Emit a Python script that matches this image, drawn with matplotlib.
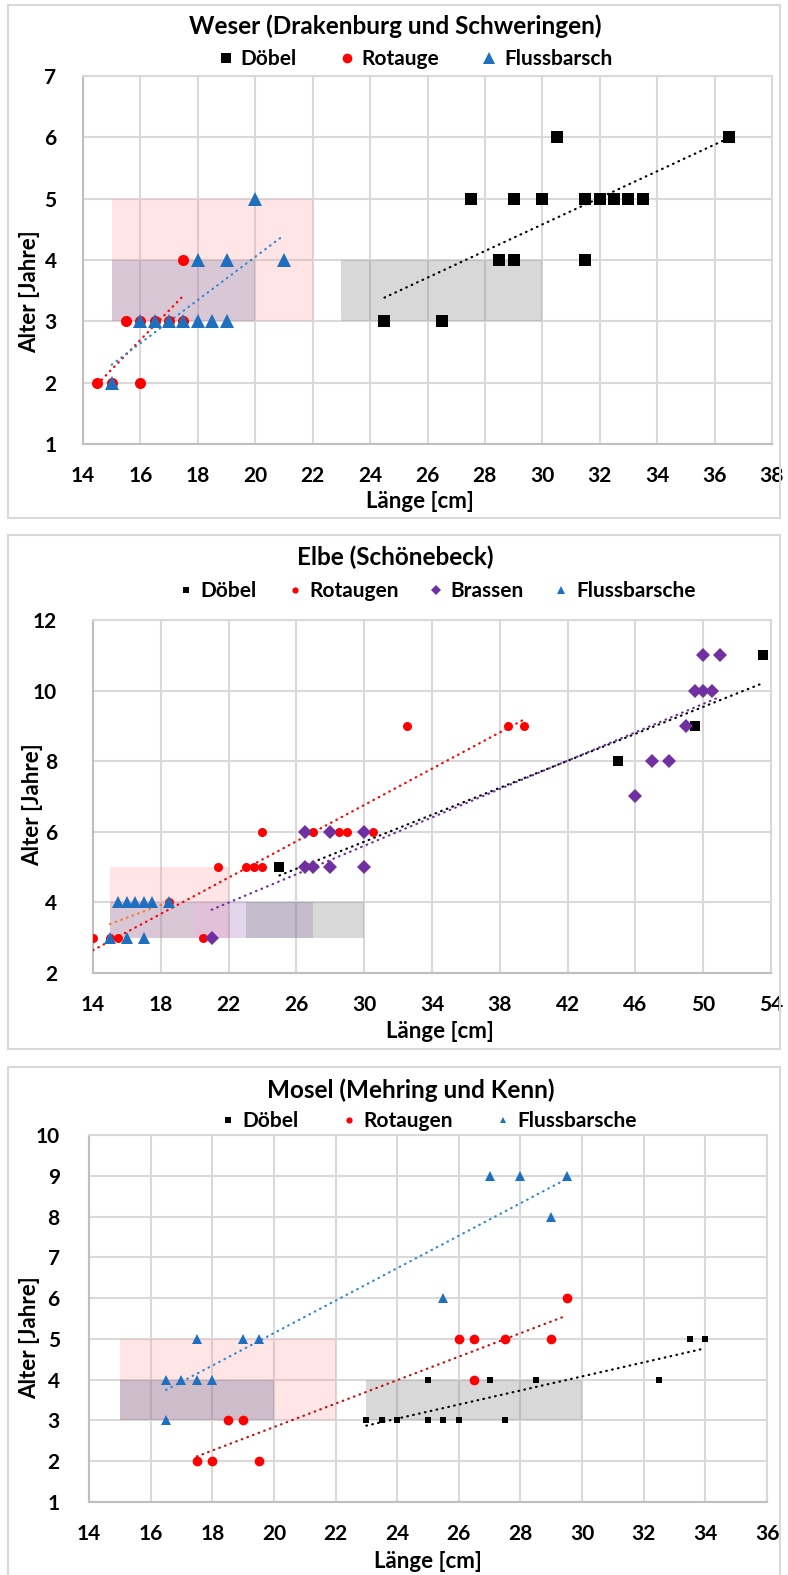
import numpy as np
import matplotlib.pyplot as plt
from matplotlib.patches import Rectangle
from matplotlib.lines import Line2D

plt.rcParams['font.family'] = ['Lato', 'DejaVu Sans']
plt.rcParams['font.weight'] = 'bold'

# ---- Weser (Drakenburg und Schweringen)
weser_doebel_len = [24.5, 26.5, 27.5, 28.5, 29, 29, 30, 30.5, 31.5, 31.5, 32, 32.5, 33, 33.5, 36.5]
weser_doebel_age = [3, 3, 5, 4, 4, 5, 5, 6, 5, 4, 5, 5, 5, 5, 6]
weser_rot_len = [14.5, 15, 16, 15.5, 16, 16.5, 17, 17.5, 17.5]
weser_rot_age = [2, 2, 2, 3, 3, 3, 3, 3, 4]
weser_fb_len = [15, 16, 16.5, 17, 17.5, 18, 18.5, 19, 18, 19, 21, 20]
weser_fb_age = [2, 3, 3, 3, 3, 3, 3, 3, 4, 4, 4, 5]

# ---- Elbe (Schönebeck)
elbe_doebel_len = [25, 45, 49.5, 53.5]
elbe_doebel_age = [5, 8, 9, 11]
elbe_rot_len = [14, 15, 15.5, 20.5, 18.5, 21.4, 23, 23.5, 24, 24, 27, 28.5, 29, 30.5, 32.5, 38.5, 39.4]
elbe_rot_age = [3, 3, 3, 3, 4, 5, 5, 5, 5, 6, 6, 6, 6, 6, 9, 9, 9]
elbe_bra_len = [21, 26.5, 28, 30, 26.5, 27, 28, 30, 46, 47, 48, 49, 49.5, 50, 50.5, 50, 51]
elbe_bra_age = [3, 6, 6, 6, 5, 5, 5, 5, 7, 8, 8, 9, 10, 10, 10, 11, 11]
elbe_fb_len = [15, 16, 17, 15.5, 16, 16.5, 17, 17.5, 18.5]
elbe_fb_age = [3, 3, 3, 4, 4, 4, 4, 4, 4]

# ---- Mosel (Mehring und Kenn)
mosel_doebel_len = [23, 23.5, 24, 25, 25.5, 26, 27.5, 25, 27, 28.5, 32.5, 33.5, 34]
mosel_doebel_age = [3, 3, 3, 3, 3, 3, 3, 4, 4, 4, 4, 5, 5]
mosel_rot_len = [17.5, 18, 19.5, 18.5, 19, 26.5, 26, 26.5, 27.5, 29, 29.5]
mosel_rot_age = [2, 2, 2, 3, 3, 4, 5, 5, 5, 5, 6]
mosel_fb_len = [16.5, 16.5, 17, 17.5, 18, 17.5, 19, 19.5, 25.5, 27, 28, 29, 29.5]
mosel_fb_age = [3, 4, 4, 4, 4, 5, 5, 5, 6, 9, 9, 8, 9]

# reference ranges (x0, x1, y0, y1)
range_rot = (15, 22, 3, 5)
range_fb = (15, 20, 3, 4)
range_doebel = (23, 30, 3, 4)
range_bra = (20, 27, 3, 4)

W, H = 788, 1575
fig = plt.figure(figsize=(W / 100, H / 100), dpi=100)


def px_box(l, t, r, b):
    return [l / W, 1 - b / H, (r - l) / W, (b - t) / H]


GRID = '#d9d9d9'
BLACK = '#000000'
RED = '#ff0000'
BLUE = '#1f6fbf'
PURPLE = '#7030a0'

TITLE_FS = 17.5
LEG_FS = 15
LABEL_FS = 16
TICK_FS = 15


def frame(t, b):
    fig.patches.append(Rectangle((8 / W, 1 - b / H), (780 - 8) / W, (b - t) / H,
                                 transform=fig.transFigure, fill=False,
                                 edgecolor=GRID, linewidth=1.5))


def trend(ax, xs, ys, color):
    xs = np.asarray(xs, float)
    k, d = np.polyfit(xs, ys, 1)
    xx = np.array([xs.min(), xs.max()])
    ax.plot(xx, k * xx + d, color=color, linewidth=1.6,
            linestyle=(0, (0.3, 2.4)), dash_capstyle='round', zorder=4)


def rect(ax, r, color, alpha):
    ax.add_patch(Rectangle((r[0], r[2]), r[1] - r[0], r[3] - r[2],
                           facecolor=color, alpha=alpha, edgecolor='none', zorder=1))


def setup(ax, xlim, xticks, ylim, yticks, ypad):
    ax.set_xlim(*xlim)
    ax.set_ylim(*ylim)
    ax.set_xticks(xticks)
    ax.set_yticks(yticks)
    ax.grid(True, color=GRID, linewidth=1.5)
    ax.set_axisbelow(True)
    for s in ax.spines.values():
        s.set_color(GRID)
        s.set_linewidth(1.5)
    ax.spines['left'].set_color('#bfbfbf')
    ax.spines['bottom'].set_color('#bfbfbf')
    ax.tick_params(length=0, labelsize=TICK_FS)
    ax.tick_params(axis='x', pad=16)
    ax.tick_params(axis='y', pad=ypad)


def legend(ax, handles, labels, xc, yoff, spacing):
    ax.legend(handles, labels, loc='center', bbox_to_anchor=(xc, yoff), ncol=len(labels),
              frameon=False, fontsize=LEG_FS, columnspacing=spacing, handletextpad=0.3,
              handlelength=0.8, borderaxespad=0)


def mk(marker, color, size):
    return Line2D([], [], linestyle='none', marker=marker, color=color,
                  markersize=size, markeredgewidth=0)


def texts(title, title_x, title_y, xlab_x, xlab_y, ylab_x, ylab_y):
    fig.text(title_x / W, 1 - title_y / H, title, ha='center', va='center',
             fontsize=TITLE_FS, fontweight='bold')
    fig.text(xlab_x / W, 1 - xlab_y / H, 'Länge [cm]', ha='center', va='center',
             fontsize=LABEL_FS, fontweight='bold')
    fig.text(ylab_x / W, 1 - ylab_y / H, 'Alter [Jahre]', ha='center', va='center',
             rotation=90, fontsize=LABEL_FS, fontweight='bold')


# ================= Weser =================
frame(5, 518)
ax1 = fig.add_axes(px_box(83, 76, 772, 444))
setup(ax1, (14, 38), np.arange(14, 39, 2), (1, 7), np.arange(1, 8), 19)
rect(ax1, range_rot, '#ff9999', 0.25)
rect(ax1, range_fb, '#6f6fa8', 0.25)
rect(ax1, range_doebel, '#808080', 0.3)
ax1.plot(weser_doebel_len, weser_doebel_age, 's', color=BLACK, ms=8, mew=0, zorder=5)
ax1.plot(weser_rot_len, weser_rot_age, 'o', color=RED, ms=8, mew=0, zorder=5)
ax1.plot(weser_fb_len, weser_fb_age, '^', color=BLUE, ms=9.5, mew=0, zorder=6)
trend(ax1, weser_doebel_len, weser_doebel_age, BLACK)
trend(ax1, weser_rot_len, weser_rot_age, RED)
trend(ax1, weser_fb_len, weser_fb_age, '#2e8bd6')
legend(ax1, [mk('s', BLACK, 7), mk('o', RED, 7), mk('^', BLUE, 8)],
       ['Döbel', 'Rotauge', 'Flussbarsch'], 0.482, 1 + 17 / 368, 2.0)
texts('Weser (Drakenburg und Schweringen)', 395, 26, 420, 501, 30, 292)

# ================= Elbe =================
frame(535, 1049)
ax2 = fig.add_axes(px_box(93, 620, 771, 973))
setup(ax2, (14, 54), np.arange(14, 55, 4), (2, 12), np.arange(2, 13, 2), 26)
rect(ax2, range_rot, '#ff9999', 0.25)
rect(ax2, range_fb, '#6f6fa8', 0.25)
rect(ax2, range_bra, PURPLE, 0.2)
rect(ax2, range_doebel, '#808080', 0.3)
ax2.plot(elbe_doebel_len, elbe_doebel_age, 's', color=BLACK, ms=6.5, mew=0, zorder=5)
ax2.plot(elbe_rot_len, elbe_rot_age, 'o', color=RED, ms=6.5, mew=0, zorder=5)
ax2.plot(elbe_bra_len, elbe_bra_age, 'D', color=PURPLE, ms=7, mew=0, zorder=5)
ax2.plot(elbe_fb_len, elbe_fb_age, '^', color=BLUE, ms=8, mew=0, zorder=6)
trend(ax2, elbe_doebel_len, elbe_doebel_age, BLACK)
trend(ax2, elbe_rot_len, elbe_rot_age, RED)
trend(ax2, elbe_bra_len, elbe_bra_age, PURPLE)
trend(ax2, elbe_fb_len, elbe_fb_age, '#ed7d31')
legend(ax2, [mk('s', BLACK, 4.5), mk('o', RED, 4.5), mk('D', PURPLE, 5), mk('^', BLUE, 5.5)],
       ['Döbel', 'Rotaugen', 'Brassen', 'Flussbarsche'], 0.507, 1 + 29 / 353, 1.4)
texts('Elbe (Schönebeck)', 395, 557, 440, 1032, 33, 805)

# ================= Mosel =================
frame(1067, 1590)
ax3 = fig.add_axes(px_box(89, 1135, 767, 1502))
setup(ax3, (14, 36), np.arange(14, 37, 2), (1, 10), np.arange(1, 11), 21)
rect(ax3, range_rot, '#ff9999', 0.25)
rect(ax3, range_fb, '#5f5f90', 0.3)
rect(ax3, range_doebel, '#808080', 0.3)
ax3.plot(mosel_doebel_len, mosel_doebel_age, 's', color=BLACK, ms=5, mew=0, zorder=5)
ax3.plot(mosel_rot_len, mosel_rot_age, 'o', color=RED, ms=7, mew=0, zorder=5)
ax3.plot(mosel_fb_len, mosel_fb_age, '^', color=BLUE, ms=7.5, mew=0, zorder=6)
trend(ax3, mosel_doebel_len, mosel_doebel_age, BLACK)
trend(ax3, mosel_rot_len, mosel_rot_age, '#c81010')
trend(ax3, mosel_fb_len, mosel_fb_age, '#2e8bd6')
legend(ax3, [mk('s', BLACK, 4), mk('o', RED, 4.5), mk('^', BLUE, 5)],
       ['Döbel', 'Rotaugen', 'Flussbarsche'], 0.5, 1 + 14 / 367, 2.0)
texts('Mosel (Mehring und Kenn)', 411, 1090, 428, 1562, 30, 1338)

fig.savefig('out.png', dpi=100)
